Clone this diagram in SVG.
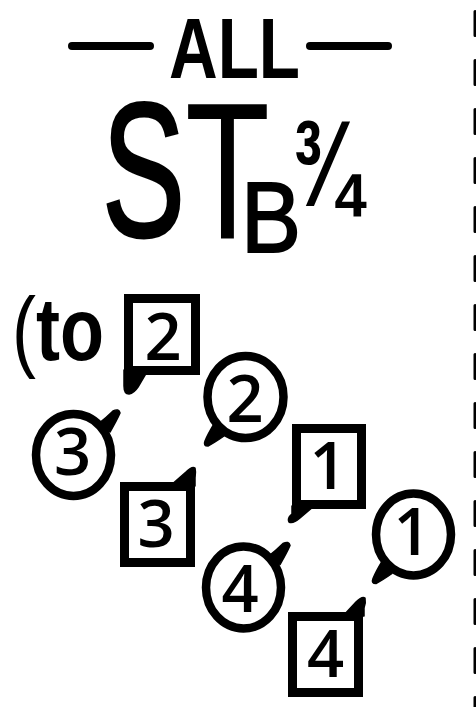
<svg xmlns="http://www.w3.org/2000/svg" width="476" height="707" viewBox="0 0 476 707">
<style>
  .ink { fill: #000; }
  .dash { stroke: #000; stroke-width: 8; stroke-linecap: round; }
  .box { fill: none; stroke: #000; stroke-width: 9; }
  .ring { fill: none; stroke: #000; stroke-width: 8.5; }
  .tail { fill: #000; stroke: #000; stroke-width: 1.5; stroke-linejoin: round; }
  .dig { font-family: "Open Sans", "Liberation Sans", sans-serif; font-weight: 600; font-size: 65px; fill: #000; text-anchor: middle; }
  .ttl { font-family: "Liberation Sans", Arial, sans-serif; fill: #000; }
</style>
<rect width="476" height="707" fill="#fff"/>
<g id="title">
  <line class="dash" x1="72" y1="46" x2="150" y2="46"/>
  <line class="dash" x1="310" y1="46" x2="388" y2="46"/>
  <text class="ttl" x="169" y="78" font-size="85" font-weight="bold" textLength="131" lengthAdjust="spacingAndGlyphs">ALL</text>
  <text class="ttl" x="102" y="236" font-size="192" stroke="#000" stroke-width="3" textLength="83" lengthAdjust="spacingAndGlyphs">S</text>
  <text class="ttl" x="185" y="238" font-size="194" textLength="85" lengthAdjust="spacingAndGlyphs">T</text>
  <text class="ttl" x="241" y="252" font-size="100" stroke="#000" stroke-width="2" textLength="60" lengthAdjust="spacingAndGlyphs">B</text>
  <text class="ttl" x="292" y="206" font-size="122" font-weight="bold" textLength="69" lengthAdjust="spacingAndGlyphs">¾</text>
</g>
<g id="label-to">
  <text class="ttl" x="12" y="360" font-size="89" textLength="92" lengthAdjust="spacingAndGlyphs"><tspan>(</tspan><tspan font-weight="bold">to</tspan></text>
</g>
<g id="node-box-2">
  <rect class="box" x="128.5" y="298.5" width="67" height="72"/>
  <path class="tail" d="M124 370 L124 386 Q124 394 129 394 Q134 393 138 387 L148 370 Z"/>
  <text class="dig" x="163" y="360">2</text>
</g>
<g id="node-circle-2">
  <ellipse class="ring" cx="245.5" cy="397" rx="38" ry="41"/>
  <path class="tail" d="M214 424 L224 436 Q214 443 208 446 Q203 446 205 441 Q208 434 214 424 Z"/>
  <text class="dig" x="245" y="422">2</text>
</g>
<g id="node-circle-3">
  <ellipse class="ring" cx="73.5" cy="455" rx="37.5" ry="41"/>
  <path class="tail" d="M98 424 Q106 418 113 411 Q119 408 120 413 Q117 420 110 432 Z"/>
  <text class="dig" x="72.5" y="475">3</text>
</g>
<g id="node-box-3">
  <rect class="box" x="124.5" y="486.5" width="66" height="76"/>
  <path class="tail" d="M170 486 L186 472 Q192 466 195 468 Q196 472 195 478 L195 486 Z"/>
  <text class="dig" x="156" y="547">3</text>
</g>
<g id="node-box-1">
  <rect class="box" x="296.5" y="428.5" width="65" height="76"/>
  <path class="tail" d="M292 506 L292 514 Q287 518 289 522 Q293 524 300 518 L314 506 Z"/>
  <text class="dig" x="328" y="489">1</text>
</g>
<g id="node-circle-1">
  <ellipse class="ring" cx="413.5" cy="534.5" rx="37.5" ry="41"/>
  <path class="tail" d="M382 561.5 L392 573.5 Q382 580.5 376 583.5 Q371 583.5 373 578.5 Q376 571.5 382 561.5 Z"/>
  <text class="dig" x="412" y="555">1</text>
</g>
<g id="node-circle-4">
  <ellipse class="ring" cx="243.5" cy="587.5" rx="37.5" ry="41"/>
  <path class="tail" d="M268 556.5 Q276 550.5 283 543.5 Q289 540.5 290 545.5 Q287 552.5 280 564.5 Z"/>
  <text class="dig" x="240" y="612">4</text>
</g>
<g id="node-box-4">
  <rect class="box" x="292.5" y="616.5" width="66" height="76"/>
  <path class="tail" d="M343 616 L356 602 Q362 596 365 598 Q366 603 364 608 L364 616 Z"/>
  <text class="dig" x="325.5" y="677">4</text>
</g>
<g id="connectors"></g>
<g id="edge-rule">
  <line x1="475" y1="11.5" x2="475" y2="707" stroke="#000" stroke-width="3" stroke-linecap="round" stroke-dasharray="24 25"/>
</g>
</svg>
